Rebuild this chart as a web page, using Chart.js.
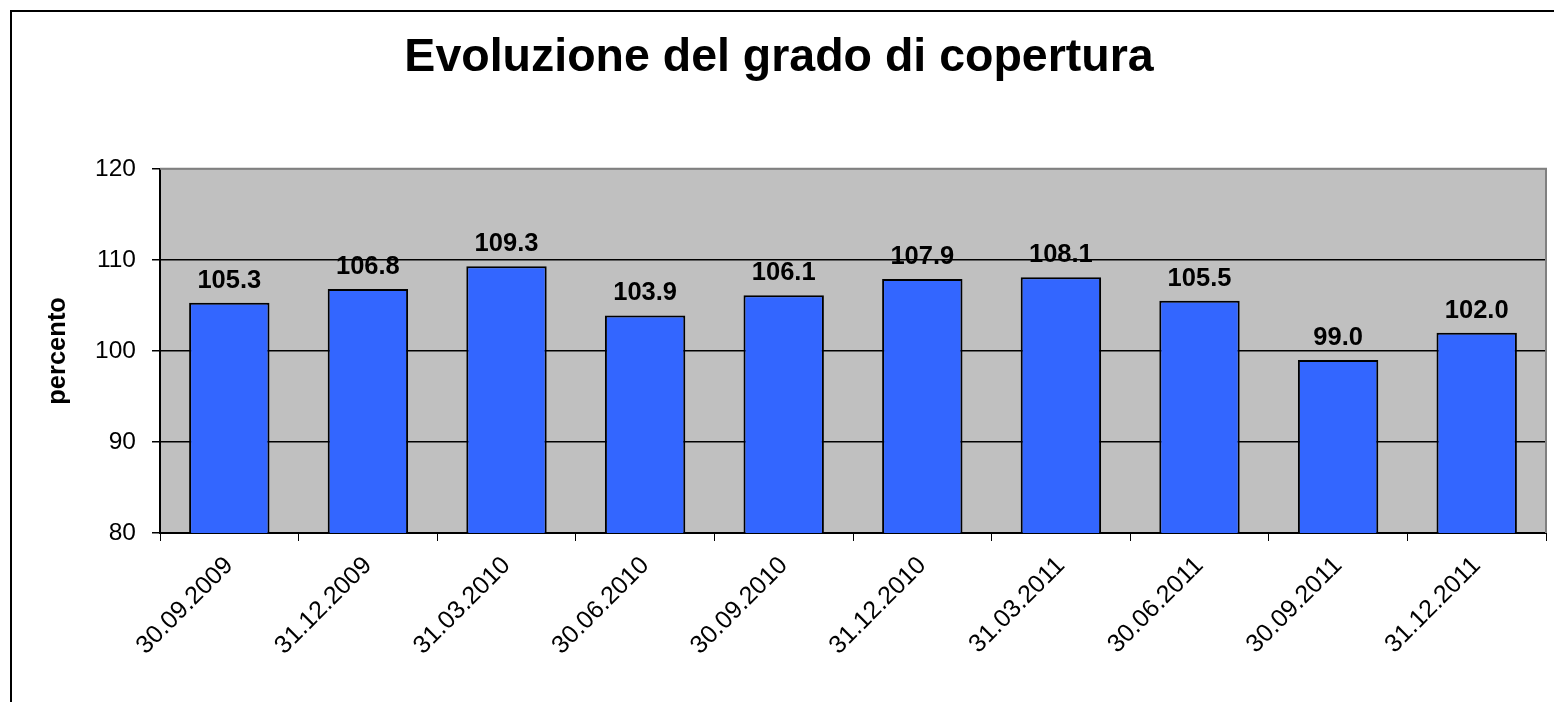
<!DOCTYPE html>
<html lang="it">
<head>
<meta charset="utf-8">
<title>Evoluzione del grado di copertura</title>
<script src="https://cdn.jsdelivr.net/npm/chart.js@4/dist/chart.umd.min.js"></script>
<style>
  html, body { margin: 0; padding: 0; background: #fff; overflow: hidden; }
  #frame {
    position: absolute; left: 10px; top: 10px; width: 2000px; height: 2000px;
    border-top: 2px solid #000; border-left: 2px solid #000;
  }
  #chart { position: absolute; left: 0; top: 0; }
</style>
</head>
<body>
<div id="frame"></div>
<canvas id="chart" width="1554" height="702"></canvas>
<script>
// Dati
const dates = [
  "30.09.2009", "31.12.2009", "31.03.2010", "30.06.2010", "30.09.2010",
  "31.12.2010", "31.03.2011", "30.06.2011", "30.09.2011", "31.12.2011",
];
const coverage = [105.3, 106.8, 109.3, 103.9, 106.1, 107.9, 108.1, 105.5, 99.0, 102.0];
const yMin = 80;
const yMax = 120;
const yStep = 10;

const FONT = "'Liberation Sans', Arial, sans-serif";

// plot area background + gray top/right edge
const plotBackground = {
  id: "plotBackground",
  beforeDraw(chart) {
    const { ctx, chartArea: a } = chart;
    ctx.save();
    ctx.fillStyle = "#c0c0c0";
    ctx.fillRect(a.left, a.top, a.right - a.left, a.bottom - a.top);
    ctx.restore();
  },
  beforeDatasetsDraw(chart) {
    const { ctx, chartArea: a } = chart;
    ctx.save();
    ctx.strokeStyle = "#808080";
    ctx.lineWidth = 2;
    ctx.beginPath();
    ctx.moveTo(a.left, a.top);
    ctx.lineTo(a.right, a.top);
    ctx.lineTo(a.right, a.bottom);
    ctx.stroke();
    ctx.restore();
  },
};

// value labels above bars
const barValues = {
  id: "barValues",
  afterDatasetsDraw(chart) {
    const { ctx } = chart;
    const meta = chart.getDatasetMeta(0);
    ctx.save();
    ctx.font = `bold 25.5px ${FONT}`;
    ctx.fillStyle = "#000";
    ctx.textAlign = "center";
    ctx.textBaseline = "alphabetic";
    meta.data.forEach((bar, i) => {
      ctx.fillText(coverage[i].toFixed(1), bar.x, bar.y - 15);
    });
    ctx.restore();
  },
};

new Chart(document.getElementById("chart"), {
  type: "bar",
  data: {
    labels: dates,
    datasets: [
      {
        data: coverage,
        backgroundColor: "#3366ff",
        borderColor: "#000",
        borderWidth: 2,
        borderSkipped: false,
        categoryPercentage: 1,
        barPercentage: 0.58,
      },
    ],
  },
  options: {
    responsive: false,
    animation: false,
    layout: { padding: { left: 12, right: 8, top: 0, bottom: 0 } },
    plugins: {
      legend: { display: false },
      tooltip: { enabled: false },
      title: {
        display: true,
        text: "Evoluzione del grado di copertura",
        color: "#000",
        font: { family: FONT, size: 46.5, weight: "bold" },
        padding: { top: 30, bottom: 83 },
      },
    },
    scales: {
      x: {
        afterFit(scale) { scale.height = 702 - 533; },
        grid: {
          offset: true,
          drawOnChartArea: false,
          color: "#000",
          tickColor: "#000",
          tickLength: 8,
        },
        border: { display: true, color: "#000", width: 2 },
        ticks: {
          color: "#000",
          font: { family: FONT, size: 25 },
          minRotation: 45,
          maxRotation: 45,
          padding: 10,
          autoSkip: false,
        },
      },
      y: {
        min: yMin,
        max: yMax,
        afterFit(scale) { scale.width = 160 - 12; },
        grid: {
          color: (c) => (c.tick && c.tick.value === yMax ? "#808080" : "#000"),
          tickColor: "#000",
          tickLength: 8,
          lineWidth: 1.5,
        },
        border: { display: true, color: "#000", width: 2 },
        ticks: {
          stepSize: yStep,
          color: "#000",
          font: { family: FONT, size: 24.5 },
          padding: 16,
        },
        title: {
          display: true,
          text: "percento",
          color: "#000",
          font: { family: FONT, size: 25.5, weight: "bold" },
          padding: { top: 31, bottom: 0 },
        },
      },
    },
  },
  plugins: [plotBackground, barValues],
});
</script>
</body>
</html>
